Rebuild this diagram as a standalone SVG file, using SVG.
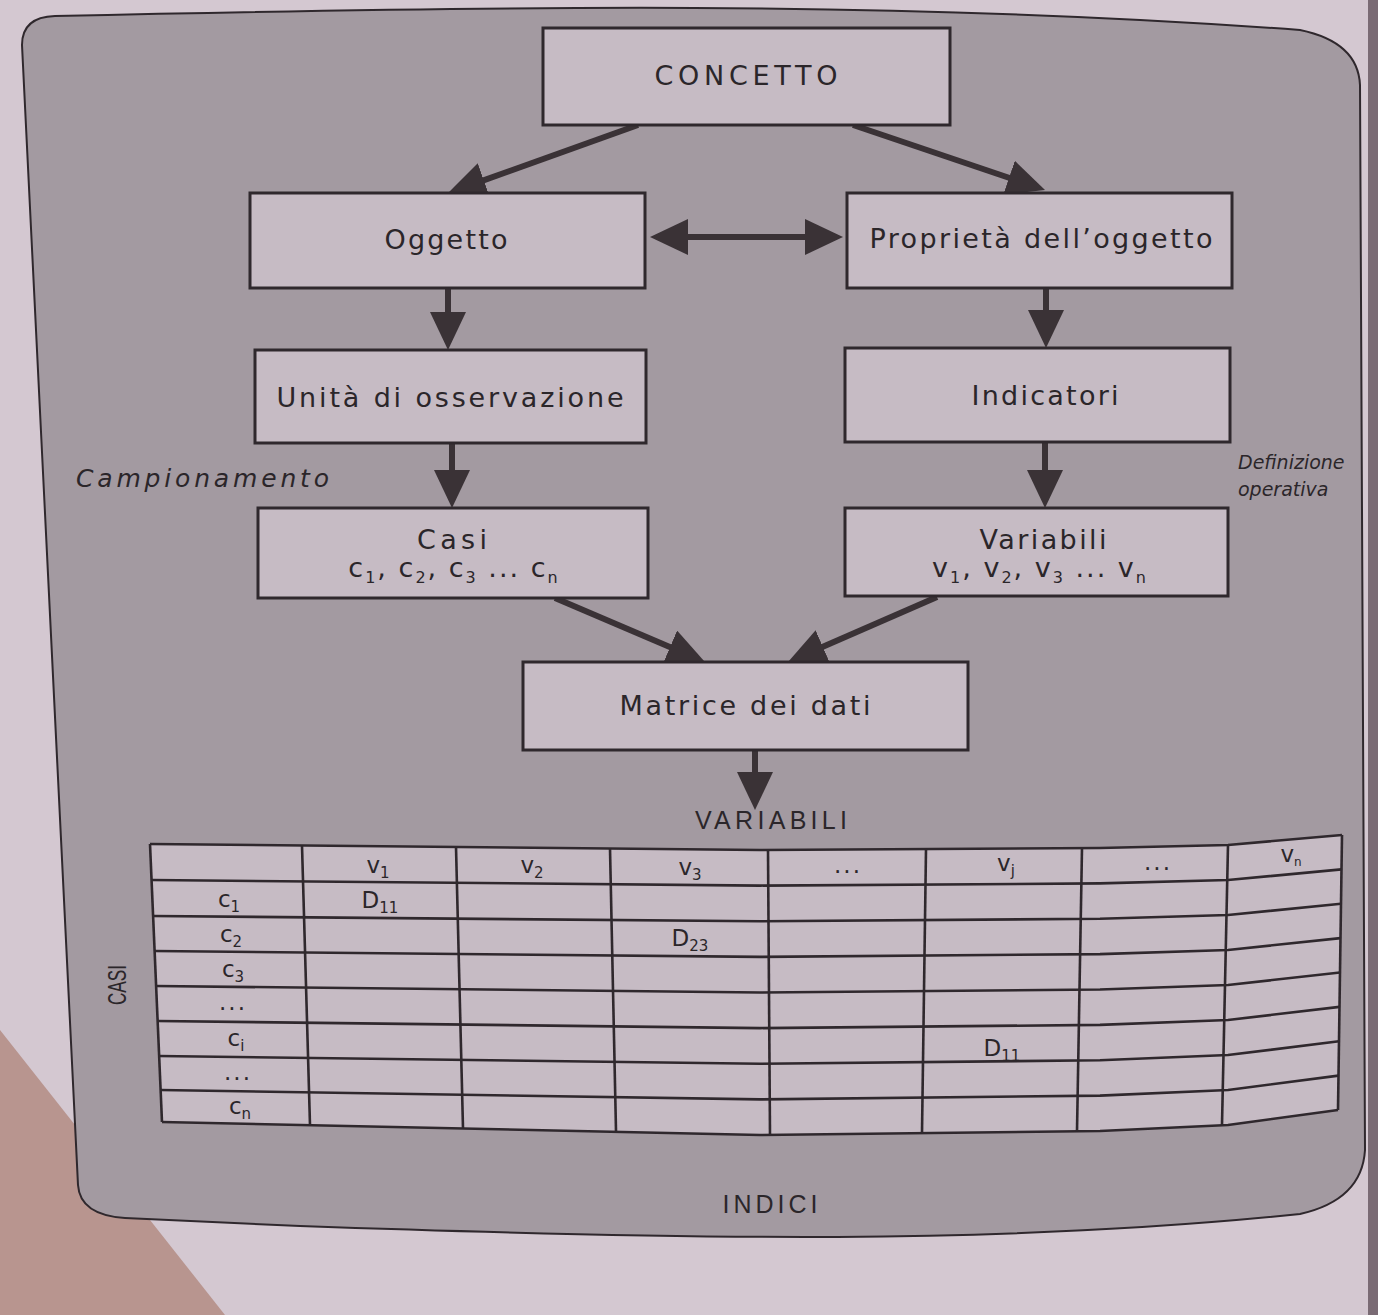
<svg xmlns="http://www.w3.org/2000/svg" width="1378" height="1315" viewBox="0 0 1378 1315">
<style>
.box{fill:#c6bbc4;stroke:#2f282d;stroke-width:3}
.lbl{font-family:"DejaVu Sans",Verdana,sans-serif;font-size:27px;fill:#2b262a;text-anchor:middle}
.it{font-style:italic;text-anchor:start;font-size:25px}
.it.sm{font-size:19px}
.cap{font-family:"Liberation Sans",Arial,sans-serif;font-size:25px;fill:#2b262a;text-anchor:middle}
.cell{font-family:"DejaVu Sans",Verdana,sans-serif;font-size:23px;fill:#2b262a;text-anchor:middle}
.conn line{stroke:#3a3236;stroke-width:6}
.grid polyline{stroke:#2f282d;stroke-width:2.6;fill:none;stroke-linejoin:round}
</style>
<defs>
<marker id="ah" markerUnits="userSpaceOnUse" markerWidth="38" markerHeight="36" viewBox="0 0 38 36" refX="10" refY="18" orient="auto-start-reverse">
<path d="M0,0 L38,18 L0,36 Z" fill="#3a3236"/>
</marker>
</defs>
<rect x="0" y="0" width="1378" height="1315" fill="#d4c8d1"/>
<polygon points="0,1030 225,1315 0,1315" fill="#b8958f"/>
<rect x="1368" y="0" width="10" height="1315" fill="#7a6b74"/>
<path id="panel" d="M22,45 Q22,17 55,16 C500,6 900,0 1300,30 Q1358,42 1360,85 L1365,1150 Q1362,1200 1300,1214 C1000,1245 700,1240 300,1226 L125,1218 Q80,1215 78,1185 Z" fill="#a39aa1" stroke="#2f282d" stroke-width="2"/>

<g id="connectors" class="conn">
<line x1="638" y1="125" x2="474.4" y2="183.6" marker-end="url(#ah)"/>
<line x1="853" y1="125" x2="1018.5" y2="181" marker-end="url(#ah)"/>
<line x1="678" y1="237" x2="815" y2="237" marker-start="url(#ah)" marker-end="url(#ah)"/>
<line x1="448" y1="288" x2="448" y2="322" marker-end="url(#ah)"/>
<line x1="1046" y1="288" x2="1046" y2="320" marker-end="url(#ah)"/>
<line x1="452" y1="443" x2="452" y2="480" marker-end="url(#ah)"/>
<line x1="1045" y1="442" x2="1045" y2="480" marker-end="url(#ah)"/>
<line x1="555" y1="598" x2="679.2" y2="651" marker-end="url(#ah)"/>
<line x1="937" y1="597" x2="813.7" y2="650.8" marker-end="url(#ah)"/>
<line x1="755" y1="750" x2="755" y2="782" marker-end="url(#ah)"/>
</g>

<g id="concetto">
<rect class="box" x="543" y="28" width="407" height="97"/>
<text class="lbl" x="746" y="85" textLength="183" lengthAdjust="spacing">CONCETTO</text>
</g>
<g id="oggetto">
<rect class="box" x="250" y="193" width="395" height="95"/>
<text class="lbl" x="446" y="249" textLength="123" lengthAdjust="spacing">Oggetto</text>
</g>
<g id="proprieta">
<rect class="box" x="847" y="193" width="385" height="95"/>
<text class="lbl" x="1041" y="248" textLength="343" lengthAdjust="spacing">Proprietà dell’oggetto</text>
</g>
<g id="unita">
<rect class="box" x="255" y="350" width="391" height="93"/>
<text class="lbl" x="450" y="407" textLength="347" lengthAdjust="spacing">Unità di osservazione</text>
</g>
<g id="indicatori">
<rect class="box" x="845" y="348" width="385" height="94"/>
<text class="lbl" x="1045" y="405" textLength="147" lengthAdjust="spacing">Indicatori</text>
</g>
<g id="casi">
<rect class="box" x="258" y="508" width="390" height="90"/>
<text class="lbl" x="452" y="549" textLength="70" lengthAdjust="spacing">Casi</text>
<text class="lbl" x="454" y="577" font-size="24" letter-spacing="2">c<tspan dy="6" font-size="16">1</tspan><tspan dy="-6">, c</tspan><tspan dy="6" font-size="16">2</tspan><tspan dy="-6">, c</tspan><tspan dy="6" font-size="16">3</tspan><tspan dy="-6"> ... c</tspan><tspan dy="6" font-size="16">n</tspan></text>
</g>
<g id="variabili">
<rect class="box" x="845" y="508" width="383" height="88"/>
<text class="lbl" x="1043" y="549" textLength="127" lengthAdjust="spacing">Variabili</text>
<text class="lbl" x="1040" y="577" font-size="24" letter-spacing="2">v<tspan dy="6" font-size="16">1</tspan><tspan dy="-6">, v</tspan><tspan dy="6" font-size="16">2</tspan><tspan dy="-6">, v</tspan><tspan dy="6" font-size="16">3</tspan><tspan dy="-6"> ... v</tspan><tspan dy="6" font-size="16">n</tspan></text>
</g>
<g id="matrice">
<rect class="box" x="523" y="662" width="445" height="88"/>
<text class="lbl" x="745" y="715" textLength="251" lengthAdjust="spacing">Matrice dei dati</text>
</g>

<g id="labels">
<text class="lbl it" x="76" y="487" textLength="253" lengthAdjust="spacing">Campionamento</text>
<text class="lbl it sm" x="1238" y="469">Definizione</text>
<text class="lbl it sm" x="1238" y="496">operativa</text>
<text class="cap" x="771" y="829" textLength="152" lengthAdjust="spacing">VARIABILI</text>
<text class="cap" x="770" y="1213" textLength="95" lengthAdjust="spacing">INDICI</text>
<text class="cap" transform="translate(126,985) rotate(-90)" font-size="22" textLength="40" lengthAdjust="spacingAndGlyphs">CASI</text>
</g>

<g id="table">
<polygon points="150,844 760,850 1100,848 1228,845 1342,835 1338,1110 1228,1125 1100,1131 760,1135 162,1122" fill="#c6bbc4"/>
<g class="grid">
<polyline points="150,844 760,850 1100,848 1228,845 1342,835"/>
<polyline points="151.5,880 760,885.6 1100,883.4 1228,880 1341.5,869.4"/>
<polyline points="153,916 760,921.3 1100,918.8 1228,915 1341,903.8"/>
<polyline points="154.5,951 760,956.9 1100,954.1 1228,950 1340.5,938.1"/>
<polyline points="156,986 760,992.5 1100,989.5 1228,985 1340,972.5"/>
<polyline points="157.5,1021 760,1028.1 1100,1024.9 1228,1020 1339.5,1006.9"/>
<polyline points="159,1056 760,1063.8 1100,1060.3 1228,1055 1339,1041.3"/>
<polyline points="160.5,1090 760,1099.4 1100,1095.6 1228,1090 1338.5,1075.6"/>
<polyline points="162,1122 760,1135 1100,1131 1228,1125 1338,1110"/>
<polyline points="150,844 162,1122"/>
<polyline points="302,845.5 310,1125"/>
<polyline points="456,847 463,1128"/>
<polyline points="610,848.5 616,1131"/>
<polyline points="768,850 770,1135"/>
<polyline points="926,849 922,1133"/>
<polyline points="1082,848 1077,1131"/>
<polyline points="1228,845 1222,1125"/>
<polyline points="1342,835 1338,1110"/>
</g>
<text class="cell" x="378" y="873">v<tspan dy="5" font-size="15">1</tspan></text>
<text class="cell" x="532" y="873">v<tspan dy="5" font-size="15">2</tspan></text>
<text class="cell" x="690" y="875">v<tspan dy="5" font-size="15">3</tspan></text>
<text class="cell" x="848" y="873" letter-spacing="2">...</text>
<text class="cell" x="1006" y="871">v<tspan dy="5" font-size="15">j</tspan></text>
<text class="cell" x="1158" y="870" letter-spacing="2">...</text>
<text class="cell" x="1291" y="862" font-size="18">v<tspan dy="4" font-size="12">n</tspan></text>
<text class="cell" x="229" y="907">c<tspan dy="5" font-size="15">1</tspan></text>
<text class="cell" x="231" y="942">c<tspan dy="5" font-size="15">2</tspan></text>
<text class="cell" x="233" y="977">c<tspan dy="5" font-size="15">3</tspan></text>
<text class="cell" x="233" y="1010" letter-spacing="2">...</text>
<text class="cell" x="236" y="1046">c<tspan dy="5" font-size="15">i</tspan></text>
<text class="cell" x="238" y="1080" letter-spacing="2">...</text>
<text class="cell" x="240" y="1114">c<tspan dy="5" font-size="15">n</tspan></text>
<text class="cell" x="380" y="908">D<tspan dy="5" font-size="15">11</tspan></text>
<text class="cell" x="690" y="946">D<tspan dy="5" font-size="15">23</tspan></text>
<text class="cell" x="1002" y="1056">D<tspan dy="5" font-size="15">11</tspan></text>
</g>
</svg>
